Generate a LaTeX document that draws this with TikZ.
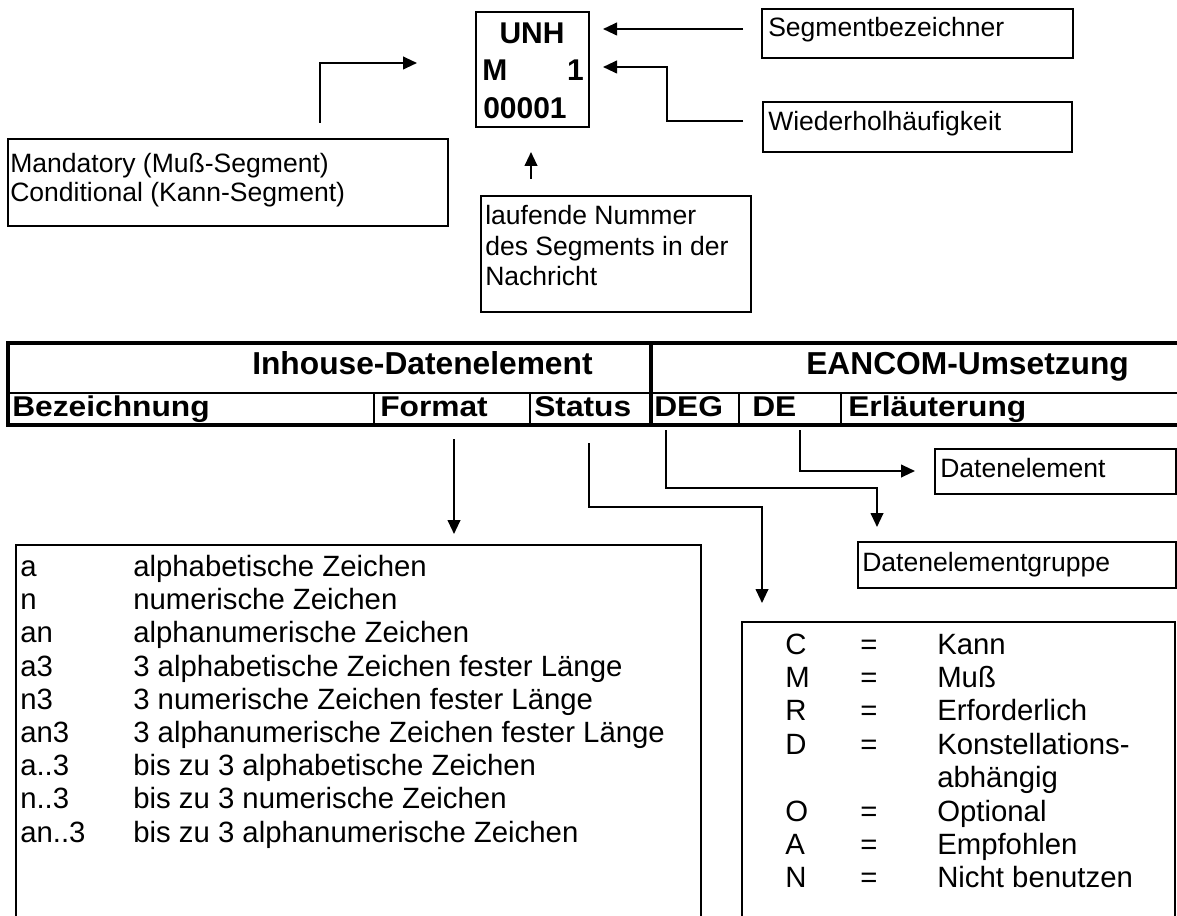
\documentclass[tikz,border=0pt]{standalone}
\usepackage{graphicx}
\usepackage{fontspec}
\setmainfont{Liberation Sans}
\usetikzlibrary{arrows.meta,fit}
\newcommand{\squash}[1]{\scalebox{1}[0.9]{#1}}
\tikzset{
 box/.style={draw, line width=1.2pt, inner sep=0pt},
 conn/.style={line width=1.5pt},
 arr/.style={conn, -{Triangle[length=10.5pt,width=9.5pt]}},
 lbl/.style={anchor=base west, inner sep=0pt, font=\fontsize{19.9}{24}\selectfont},
 leg/.style={anchor=base west, inner sep=0pt, font=\fontsize{22}{26}\selectfont},
 hdr/.style={anchor=base west, inner sep=0pt, font=\bfseries\fontsize{23.8}{28}\selectfont},
 unh/.style={inner sep=0pt, font=\bfseries\fontsize{22.5}{27}\selectfont},
 thick line/.style={line width=3pt},
 thin line/.style={line width=1.1pt},
}
\begin{document}
\begin{tikzpicture}[x=0.75pt,y=-0.75pt]
\useasboundingbox (0,0) rectangle (1177,916);
\clip (0,0) rectangle (1177,916);
\fill[white] (0,0) rectangle (1177,916);

% ---- UNH box
\node[box, line width=1.6pt, fit={(476,12)(589,127)}] (unhbox) {};
\node[unh, anchor=base] (unhT) at (532,44) {UNH};
\node[unh, anchor=base west] (unhM) at (482,81) {M};
\node[unh, anchor=base east] (unh1) at (584,81) {1};
\node[unh, anchor=base west] (unh0) at (483,119) {00001};

% ---- right labels
\node[box, fit={(762,9)(1073,58)}] (segbox) {};
\node[lbl] (segT) at (768,37) {Segmentbezeichner};
\node[box, fit={(763,102)(1072,152)}] (wiedbox) {};
\node[lbl] (wiedT) at (768,131) {Wiederholhäufigkeit};

\coordinate (s1) at (743,29);
\coordinate (s2) at (603,29);
\draw[arr] (s1) -- (s2);
\coordinate (w1) at (743,121);
\coordinate (wc) at (667,67);
\coordinate (w2) at (603,67);
\draw[arr] (w1) -| (wc) -- (w2);

% ---- Mandatory
\node[box, fit={(8,139)(448,226)}] (mandbox) {};
\node[lbl] (mand1) at (10,173) {Mandatory (Muß-Segment)};
\node[lbl] (mand2) at (10,201.5) {Conditional (Kann-Segment)};
\coordinate (m1) at (320,123);
\coordinate (mc) at (320,63);
\coordinate (m2) at (417,63);
\draw[arr] (m1) -- (mc) -- (m2);

% ---- laufende Nummer
\node[box, fit={(481,196)(751,312)}] (laufbox) {};
\node[lbl] (lauf1) at (485,225) {laufende Nummer};
\node[lbl] (lauf2) at (485,256) {des Segments in der};
\node[lbl] (lauf3) at (485,286) {Nachricht};
\coordinate (u1) at (531,179);
\coordinate (u2) at (531,152);
\draw[arr] (u1) -- (u2);

% ---- table
\draw[thin line] (8,393) -- (1190,393);
\draw[thin line] (374,393) -- (374,425);
\draw[thin line] (530,393) -- (530,425);
\draw[thin line] (739,393) -- (739,425);
\draw[thin line] (841,393) -- (841,425);
\draw[thick line] (651,343) -- (651,425);
\draw[thick line] (1190,343) -- (8,343) -- (8,425) -- (1190,425);
\node[hdr] (h1) at (252,374) {Inhouse-Datenelement};
\node[hdr] (h2) at (806,374) {EANCOM-Umsetzung};
\node[hdr] (c1) at (12,416) {\squash{Bezeichnung}};
\node[hdr] (c2) at (380,416) {\squash{Format}};
\node[hdr] (c3) at (534,416) {\squash{Status}};
\node[hdr] (c4) at (654,416) {\squash{DEG}};
\node[hdr] (c5) at (752,416) {\squash{DE}};
\node[hdr] (c6) at (848,416) {\squash{Erläuterung}};

% ---- arrows below table
\coordinate (f1) at (454,439);
\coordinate (f2) at (454,534);
\draw[arr] (f1) -- (f2);
\coordinate (st1) at (589,443);
\coordinate (stc) at (762,507);
\coordinate (st2) at (762,603);
\draw[arr] (st1) |- (stc) -- (st2);
\coordinate (dg1) at (666,430);
\coordinate (dgc) at (877,488);
\coordinate (dg2) at (877,527);
\draw[arr] (dg1) |- (dgc) -- (dg2);
\coordinate (de1) at (800,430);
\coordinate (de2) at (915,471);
\draw[arr] (de1) |- (de2);

% ---- Datenelement boxes
\node[box, fit={(935,449)(1176,494)}] (debox) {};
\node[lbl] (deT) at (940,477) {Datenelement};
\node[box, fit={(858,542)(1176,588)}] (dgbox) {};
\node[lbl] (dgT) at (862,571) {Datenelementgruppe};

% ---- Format legend
\node[box, fit={(16,545)(701,940)}] (fmtbox) {};
\foreach \c/\d [count=\i from 0] in {a/alphabetische Zeichen,
  n/numerische Zeichen,
  an/alphanumerische Zeichen,
  a3/3 alphabetische Zeichen fester Länge,
  n3/3 numerische Zeichen fester Länge,
  an3/3 alphanumerische Zeichen fester Länge,
  a..3/bis zu 3 alphabetische Zeichen,
  n..3/bis zu 3 numerische Zeichen,
  an..3/bis zu 3 alphanumerische Zeichen}{
  \node[leg] (fc\i) at (20,576.5+33.2*\i) {\c};
  \node[leg] (fd\i) at (133,576.5+33.2*\i) {\d};
}

% ---- Status legend
\node[box, fit={(742,622)(1175,940)}] (stbox) {};
\foreach \c/\d [count=\i from 0] in {C/Kann, M/Muß, R/Erforderlich, D/Konstellations-}{
  \node[leg] (sc\i) at (785,654+33.4*\i) {\c};
  \node[leg] (se\i) at (860,654+33.4*\i) {=};
  \node[leg] (sd\i) at (937,654+33.4*\i) {\d};
}
\node[leg] (sd4) at (937,654+33.4*4) {abhängig};
\foreach \c/\d [count=\i from 5] in {O/Optional, A/Empfohlen, N/Nicht benutzen}{
  \node[leg] (sc\i) at (785,654+33.4*\i) {\c};
  \node[leg] (se\i) at (860,654+33.4*\i) {=};
  \node[leg] (sd\i) at (937,654+33.4*\i) {\d};
}
\end{tikzpicture}
\end{document}
